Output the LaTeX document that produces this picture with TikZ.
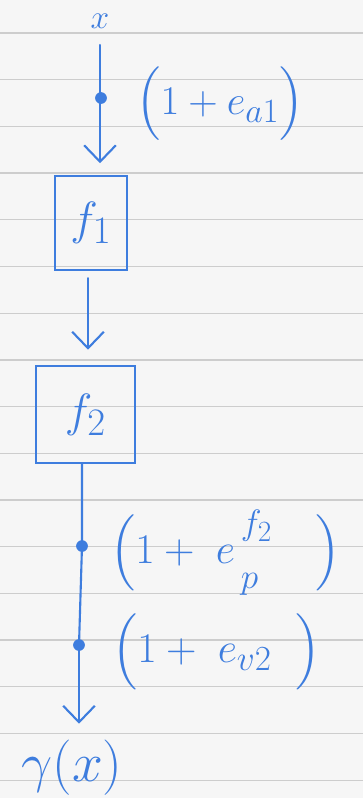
\documentclass[tikz,border=0pt]{standalone}
\usepackage{amsmath}
\usepackage{graphicx}
\usetikzlibrary{arrows.meta,positioning,calc}
\definecolor{ink}{RGB}{62,125,222}
\definecolor{paper}{RGB}{246,246,246}
\definecolor{rule}{RGB}{205,205,205}
\tikzset{
  flowln/.style={ink, line width=1.8pt, line cap=round,
    -{Straight Barb[length=14pt,width=27pt,line width=1.8pt]}},
  plainln/.style={ink, line width=1.8pt, line cap=round},
  blockbox/.style={draw=ink, line width=1.8pt, text=ink, inner sep=0pt},
  hand/.style={text=ink, inner sep=0pt, font=\fontsize{24.88}{28}\selectfont},
}
% handwriting is large: blow the math up
\newcommand{\inkmath}[2]{\scalebox{#1}{$#2$}}
\newcommand{\inkdot}[1]{%
  \fill[ink] #1 circle (5pt);
}
\begin{document}
\begin{tikzpicture}[x=0.03cm, y=-0.03cm]
    % lined paper
    \fill[paper] (0,0) rectangle (363,798);
    \useasboundingbox (0,0) rectangle (363,798);
    \foreach \k in {0,...,16}
      \draw[rule, line width=1.1pt] (0,{33+46.7*\k}) -- (363,{33+46.7*\k});
    % input and blocks
    \node[hand] (xin) at (100,21) {\inkmath{1.15}{x}};
    \node[blockbox, hand, minimum width=2.16cm, minimum height=2.82cm] (f1) at (91,223) {\inkmath{1.6}{f_1}};
    \node[blockbox, hand, minimum width=2.97cm, minimum height=2.91cm] (f2) at (85.5,414.5) {\inkmath{1.6}{f_2}};
    \node[hand] (out) at (72,768) {\inkmath{1.9}{\gamma(x)}};
    % points where the factors act
    \coordinate (d1) at (101,98);
    \coordinate (d2) at (82,546);
    \coordinate (d3) at (79,645);
    % connectors
    \draw[flowln, shorten >=10pt] (xin.south |- 0,45) -- (xin.south |- f1.north);
    \draw[flowln, shorten <=6pt, shorten >=13pt] (f1.south -| 88,0) -- (f2.north -| 88,0);
    \draw[plainln] (f2.south -| d2) -- (d2) -- (d3);
    \draw[flowln, shorten >=14pt] (d3) -- (d3 |- out.north);
    \inkdot{(d1)}
    \inkdot{(d2)}
    \inkdot{(d3)}
    % factor labels
    \node[hand, anchor=west] (la1) at (136,104) {\inkmath{1.4}{\Bigl(1+e_{a1}\Bigr)}};
    \node[hand, anchor=west] (lp) at (110,552) {\inkmath{1.45}{\Bigl(1+\;e^{\,f_2\strut}_{\,p\strut}\quad\Bigr)}};
    \node[hand, anchor=west] (lv2) at (112,652) {\inkmath{1.45}{\Bigl(1+\;e_{v2}\;\;\Bigr)}};
\end{tikzpicture}
\end{document}
